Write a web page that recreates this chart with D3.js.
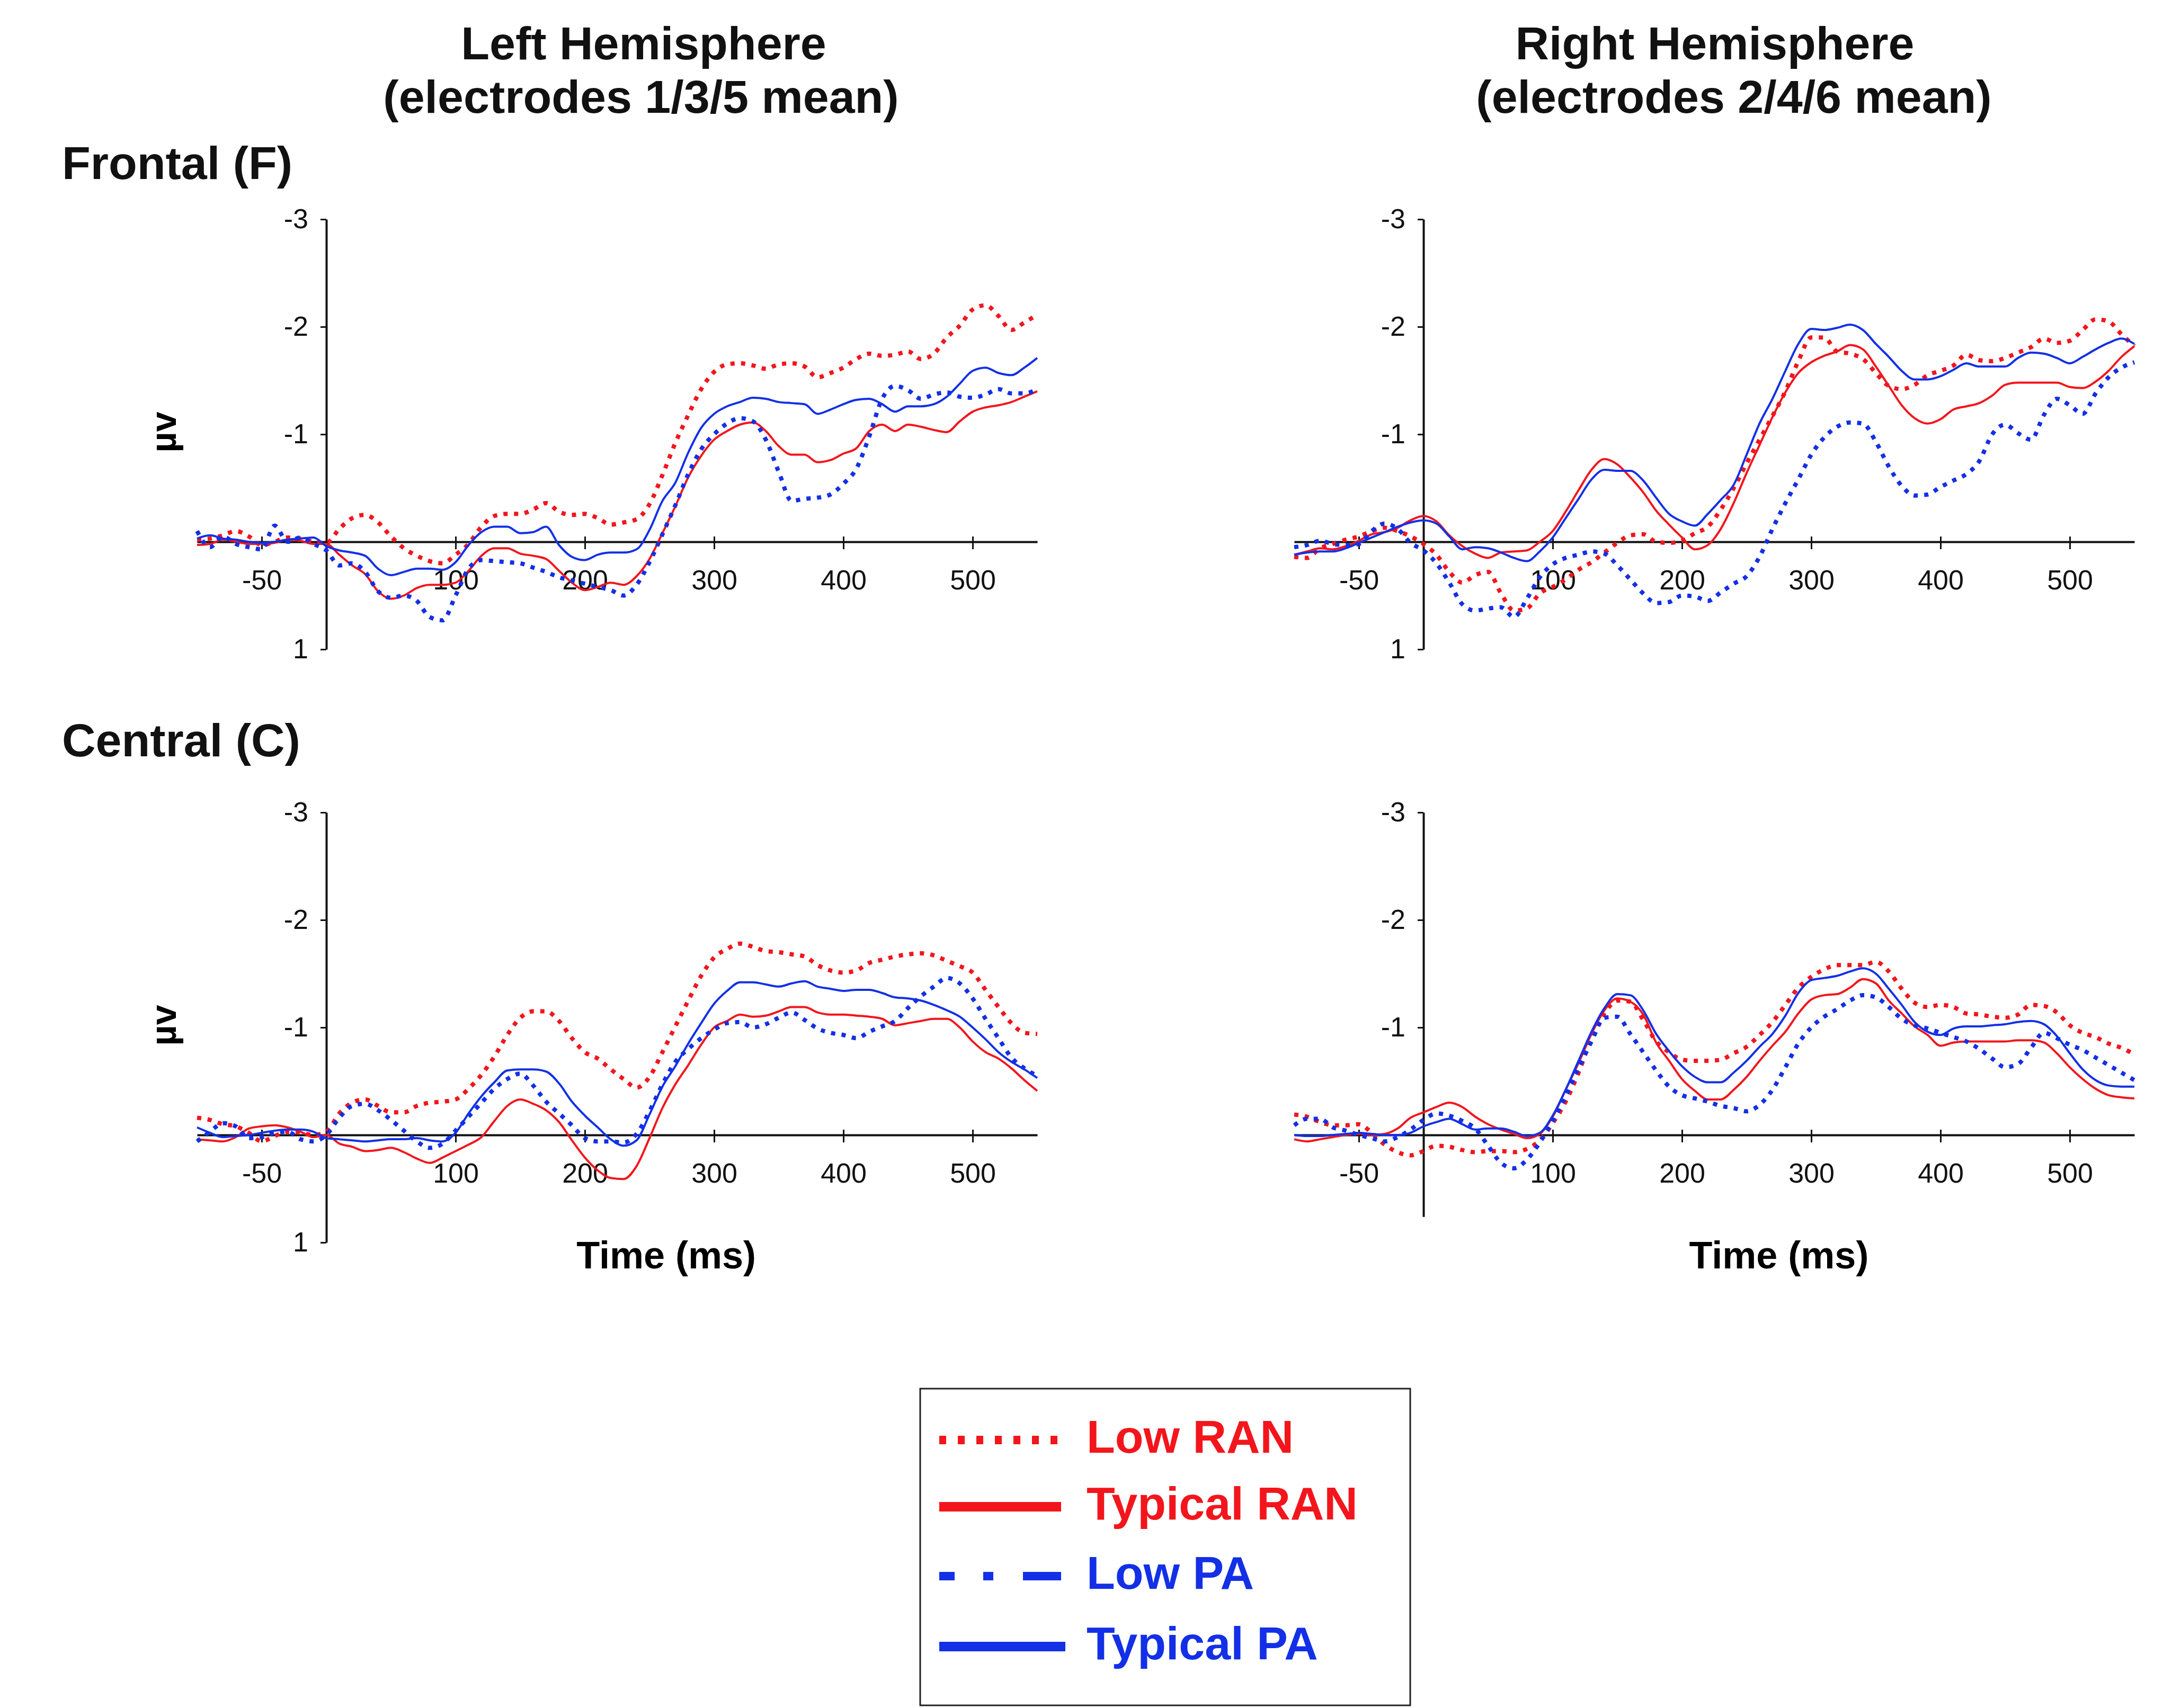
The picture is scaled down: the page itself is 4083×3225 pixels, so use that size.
<!DOCTYPE html>
<html>
<head>
<meta charset="utf-8">
<script src="https://cdn.jsdelivr.net/npm/d3@7"></script>
<style>
  body { margin: 0; background: #fff; }
  text { font-family: "Liberation Sans", Arial, sans-serif; }
</style>
</head>
<body>
<svg id="chart"></svg>
<script>
// sample times (ms)
const times = [-100,-90,-80,-70,-60,-50,-40,-30,-20,-10,
  0,10,20,30,40,50,60,70,80,90,
  100,110,120,130,140,150,160,170,180,190,
  200,210,220,230,240,250,260,270,280,290,
  300,310,320,330,340,350,360,370,380,390,
  400,410,420,430,440,450,460,470,480,490,
  500,510,520,530,540,550];

// Frontal, left hemisphere (µV)
const fLeftLowRan = [-0.02,-0.03,-0.06,-0.10,-0.05,0.03,0.00,-0.04,-0.03,0.00,
  0.01,-0.12,-0.22,-0.25,-0.18,-0.05,0.06,0.13,0.18,0.20,
  0.12,0.02,-0.14,-0.24,-0.26,-0.26,-0.30,-0.36,-0.28,-0.25,
  -0.26,-0.22,-0.16,-0.18,-0.21,-0.35,-0.62,-0.92,-1.18,-1.42,
  -1.58,-1.65,-1.66,-1.64,-1.61,-1.65,-1.66,-1.63,-1.53,-1.57,
  -1.62,-1.70,-1.75,-1.73,-1.74,-1.77,-1.70,-1.75,-1.90,-2.01,
  -2.16,-2.20,-2.10,-1.97,-2.04,-2.11];
const fLeftTypRan = [0.03,0.02,-0.02,0.00,0.02,0.02,0.01,-0.02,-0.01,0.02,
  0.02,0.12,0.22,0.30,0.46,0.53,0.50,0.43,0.40,0.40,
  0.38,0.27,0.13,0.06,0.06,0.11,0.13,0.16,0.27,0.38,
  0.45,0.42,0.38,0.40,0.32,0.16,-0.08,-0.33,-0.60,-0.80,
  -0.95,-1.03,-1.09,-1.11,-1.03,-0.89,-0.81,-0.81,-0.74,-0.76,
  -0.82,-0.87,-1.03,-1.09,-1.03,-1.09,-1.07,-1.04,-1.02,-1.12,
  -1.21,-1.25,-1.27,-1.30,-1.35,-1.40];
const fLeftLowPa = [-0.10,0.05,-0.05,0.02,0.05,0.07,-0.15,0.00,-0.04,0.02,
  0.08,0.22,0.20,0.28,0.46,0.52,0.50,0.55,0.70,0.73,
  0.50,0.25,0.17,0.18,0.19,0.20,0.24,0.28,0.33,0.36,
  0.39,0.42,0.45,0.50,0.40,0.19,-0.07,-0.34,-0.63,-0.86,
  -1.00,-1.10,-1.15,-1.12,-0.95,-0.65,-0.38,-0.40,-0.41,-0.44,
  -0.54,-0.68,-0.98,-1.33,-1.45,-1.41,-1.33,-1.37,-1.39,-1.35,
  -1.34,-1.37,-1.42,-1.38,-1.38,-1.42];
const fLeftTypPa = [-0.03,-0.06,-0.03,-0.02,0.00,0.01,0.00,-0.02,-0.03,-0.04,
  0.04,0.08,0.10,0.13,0.25,0.31,0.28,0.25,0.25,0.26,
  0.19,0.03,-0.09,-0.14,-0.14,-0.08,-0.09,-0.14,0.03,0.14,
  0.17,0.12,0.10,0.10,0.07,-0.11,-0.38,-0.55,-0.83,-1.06,
  -1.19,-1.26,-1.30,-1.34,-1.33,-1.30,-1.29,-1.28,-1.19,-1.23,
  -1.28,-1.32,-1.33,-1.28,-1.21,-1.26,-1.26,-1.28,-1.35,-1.47,
  -1.59,-1.62,-1.57,-1.55,-1.62,-1.71];

// Frontal, right hemisphere
const fRightLowRan = [0.14,0.15,0.06,0.02,-0.02,-0.05,-0.10,-0.13,-0.10,-0.05,
  0.02,0.12,0.28,0.38,0.31,0.28,0.48,0.64,0.62,0.48,
  0.42,0.35,0.26,0.19,0.10,0.01,-0.06,-0.07,0.00,0.01,
  -0.01,-0.08,-0.14,-0.30,-0.50,-0.73,-0.95,-1.17,-1.40,-1.68,
  -1.90,-1.90,-1.77,-1.75,-1.70,-1.57,-1.45,-1.42,-1.46,-1.55,
  -1.59,-1.64,-1.74,-1.69,-1.68,-1.71,-1.76,-1.81,-1.89,-1.85,
  -1.87,-1.97,-2.07,-2.05,-1.93,-1.82];
const fRightTypRan = [0.12,0.09,0.06,0.07,0.04,-0.01,-0.07,-0.09,-0.13,-0.20,
  -0.24,-0.19,-0.06,0.04,0.11,0.15,0.10,0.09,0.08,0.00,
  -0.10,-0.28,-0.48,-0.67,-0.77,-0.72,-0.60,-0.46,-0.29,-0.16,
  -0.04,0.07,0.03,-0.12,-0.36,-0.64,-0.90,-1.16,-1.39,-1.57,
  -1.67,-1.73,-1.77,-1.83,-1.79,-1.63,-1.45,-1.27,-1.15,-1.10,
  -1.14,-1.23,-1.26,-1.29,-1.36,-1.46,-1.48,-1.48,-1.48,-1.48,
  -1.44,-1.43,-1.49,-1.59,-1.72,-1.82];
const fRightLowPa = [0.05,0.03,-0.01,0.02,0.03,0.02,-0.10,-0.17,-0.12,0.01,
  0.08,0.20,0.38,0.58,0.64,0.62,0.61,0.70,0.53,0.33,
  0.21,0.15,0.12,0.09,0.11,0.22,0.35,0.48,0.57,0.56,
  0.50,0.51,0.55,0.47,0.39,0.32,0.14,-0.12,-0.36,-0.58,
  -0.81,-0.97,-1.07,-1.11,-1.10,-0.93,-0.70,-0.52,-0.43,-0.44,
  -0.51,-0.57,-0.63,-0.75,-1.00,-1.09,-1.01,-0.95,-1.18,-1.33,
  -1.27,-1.19,-1.38,-1.53,-1.62,-1.67];
const fRightTypPa = [0.12,0.10,0.09,0.09,0.06,0.01,-0.04,-0.09,-0.14,-0.18,
  -0.20,-0.17,-0.05,0.07,0.05,0.06,0.10,0.15,0.18,0.09,
  -0.04,-0.22,-0.40,-0.58,-0.67,-0.66,-0.66,-0.57,-0.41,-0.26,
  -0.19,-0.15,-0.26,-0.39,-0.53,-0.81,-1.10,-1.33,-1.59,-1.84,
  -1.98,-1.97,-1.99,-2.02,-1.97,-1.84,-1.72,-1.59,-1.51,-1.51,
  -1.54,-1.60,-1.66,-1.63,-1.63,-1.63,-1.71,-1.76,-1.75,-1.71,
  -1.66,-1.72,-1.79,-1.85,-1.89,-1.84];

// Central, left hemisphere
const cLeftLowRan = [-0.16,-0.14,-0.10,-0.08,-0.02,0.06,0.01,-0.03,-0.02,0.00,
  -0.03,-0.20,-0.30,-0.33,-0.27,-0.21,-0.21,-0.27,-0.30,-0.31,
  -0.33,-0.43,-0.56,-0.73,-0.93,-1.09,-1.15,-1.15,-1.06,-0.90,
  -0.77,-0.71,-0.61,-0.52,-0.44,-0.54,-0.77,-1.01,-1.25,-1.48,
  -1.65,-1.73,-1.78,-1.75,-1.71,-1.70,-1.68,-1.66,-1.58,-1.53,
  -1.51,-1.53,-1.60,-1.63,-1.66,-1.68,-1.69,-1.67,-1.62,-1.57,
  -1.51,-1.35,-1.19,-1.04,-0.95,-0.94];
const cLeftTypRan = [0.04,0.05,0.06,0.02,-0.06,-0.08,-0.09,-0.07,-0.03,0.02,
  0.00,0.08,0.11,0.15,0.14,0.12,0.16,0.22,0.26,0.21,
  0.15,0.09,0.02,-0.13,-0.27,-0.33,-0.29,-0.23,-0.12,0.05,
  0.21,0.33,0.40,0.41,0.29,0.03,-0.25,-0.47,-0.65,-0.84,
  -1.00,-1.06,-1.12,-1.10,-1.11,-1.15,-1.19,-1.19,-1.14,-1.12,
  -1.12,-1.11,-1.10,-1.08,-1.02,-1.04,-1.06,-1.08,-1.08,-1.00,
  -0.87,-0.77,-0.71,-0.62,-0.51,-0.41];
const cLeftLowPa = [0.06,-0.03,-0.11,-0.08,0.03,0.02,-0.02,-0.03,0.04,0.06,
  0.00,-0.16,-0.27,-0.29,-0.23,-0.14,-0.04,0.06,0.12,0.08,
  -0.04,-0.17,-0.30,-0.43,-0.52,-0.57,-0.46,-0.31,-0.20,-0.09,
  0.03,0.06,0.06,0.07,-0.01,-0.22,-0.47,-0.68,-0.80,-0.90,
  -0.98,-1.04,-1.05,-1.00,-1.03,-1.09,-1.14,-1.07,-0.99,-0.95,
  -0.93,-0.90,-0.96,-1.01,-1.06,-1.18,-1.29,-1.38,-1.46,-1.41,
  -1.27,-1.08,-0.90,-0.72,-0.62,-0.55];
const cLeftTypPa = [-0.07,-0.02,0.02,0.01,0.00,-0.02,-0.04,-0.05,-0.05,-0.03,
  0.03,0.04,0.05,0.06,0.05,0.04,0.04,0.03,0.05,0.06,
  -0.02,-0.20,-0.36,-0.49,-0.60,-0.61,-0.61,-0.59,-0.48,-0.31,
  -0.18,-0.07,0.04,0.10,0.05,-0.19,-0.45,-0.64,-0.85,-1.04,
  -1.22,-1.34,-1.42,-1.42,-1.40,-1.38,-1.41,-1.43,-1.38,-1.36,
  -1.34,-1.35,-1.35,-1.32,-1.28,-1.27,-1.25,-1.21,-1.16,-1.10,
  -1.00,-0.89,-0.77,-0.68,-0.61,-0.53];

// Central, right hemisphere
const cRightLowRan = [-0.19,-0.17,-0.12,-0.09,-0.09,-0.10,-0.02,0.09,0.16,0.19,
  0.15,0.10,0.11,0.14,0.16,0.15,0.15,0.16,0.13,0.05,
  -0.11,-0.31,-0.58,-0.90,-1.13,-1.25,-1.24,-1.07,-0.87,-0.77,
  -0.70,-0.69,-0.69,-0.70,-0.76,-0.82,-0.93,-1.05,-1.21,-1.37,
  -1.47,-1.54,-1.58,-1.58,-1.58,-1.61,-1.52,-1.36,-1.23,-1.19,
  -1.21,-1.19,-1.13,-1.12,-1.10,-1.09,-1.12,-1.21,-1.20,-1.14,
  -1.02,-0.95,-0.91,-0.85,-0.81,-0.75];
const cRightTypRan = [0.04,0.06,0.04,0.02,0.00,-0.01,0.00,-0.01,-0.06,-0.16,
  -0.21,-0.26,-0.30,-0.26,-0.17,-0.10,-0.05,-0.01,0.03,-0.01,
  -0.17,-0.42,-0.67,-0.94,-1.16,-1.27,-1.24,-1.12,-0.86,-0.69,
  -0.52,-0.41,-0.33,-0.33,-0.42,-0.54,-0.69,-0.83,-0.96,-1.13,
  -1.26,-1.30,-1.31,-1.37,-1.45,-1.41,-1.25,-1.13,-1.01,-0.93,
  -0.83,-0.86,-0.87,-0.87,-0.87,-0.87,-0.88,-0.88,-0.86,-0.76,
  -0.63,-0.52,-0.43,-0.37,-0.35,-0.34];
const cRightLowPa = [-0.09,-0.15,-0.15,-0.07,-0.04,0.00,0.03,0.06,0.02,-0.05,
  -0.14,-0.20,-0.18,-0.13,-0.06,0.10,0.26,0.31,0.23,0.07,
  -0.13,-0.36,-0.62,-0.87,-1.09,-1.10,-0.94,-0.77,-0.60,-0.45,
  -0.37,-0.34,-0.31,-0.27,-0.25,-0.22,-0.28,-0.42,-0.63,-0.85,
  -1.00,-1.10,-1.17,-1.25,-1.30,-1.28,-1.19,-1.08,-1.02,-0.99,
  -0.95,-0.91,-0.87,-0.80,-0.71,-0.63,-0.66,-0.81,-0.95,-0.90,
  -0.84,-0.79,-0.72,-0.65,-0.58,-0.51];
const cRightTypPa = [0.00,0.01,0.01,0.00,-0.01,-0.02,-0.01,0.00,0.00,-0.02,
  -0.08,-0.12,-0.15,-0.10,-0.05,-0.06,-0.06,-0.03,0.01,-0.02,
  -0.18,-0.42,-0.69,-0.96,-1.18,-1.31,-1.30,-1.16,-0.94,-0.78,
  -0.64,-0.54,-0.49,-0.49,-0.58,-0.69,-0.82,-0.94,-1.11,-1.32,
  -1.44,-1.46,-1.48,-1.52,-1.55,-1.50,-1.36,-1.21,-1.05,-0.96,
  -0.93,-0.99,-1.01,-1.01,-1.02,-1.03,-1.05,-1.06,-1.03,-0.92,
  -0.76,-0.61,-0.51,-0.46,-0.45,-0.45];

const xTicks = [-50, 100, 200, 300, 400, 500];
const yTicks = [-3, -2, -1, 0, 1];
const groupNames = ["Low RAN", "Typical RAN", "Low PA", "Typical PA"];

const RED = "#f2161c";
const BLUE = "#1330e6";
const groupColor = [RED, RED, BLUE, BLUE];
const groupDash = ["8 12", null, "8 12", null];
const groupWidth = [8, 4, 8, 4];

const W = 4083, H = 3225;
const svg = d3.select("#chart").attr("width", W).attr("height", H)
  .attr("viewBox", [0, 0, W, H]);

const panels = [
  { left: 372, top: 414, label: true, axisEnd: 1, data: [fLeftLowRan, fLeftTypRan, fLeftLowPa, fLeftTypPa] },
  { left: 2443, top: 414, label: false, axisEnd: 1, data: [fRightLowRan, fRightTypRan, fRightLowPa, fRightTypPa] },
  { left: 372, top: 1534, label: true, axisEnd: 1, timeAt: 263, data: [cLeftLowRan, cLeftTypRan, cLeftLowPa, cLeftTypPa] },
  { left: 2443, top: 1534, label: false, axisEnd: 0.76, timeAt: 275, data: [cRightLowRan, cRightTypRan, cRightLowPa, cRightTypPa] }
];

const panelW = 1586, panelH = 812;

panels.forEach((p) => {
  const x = d3.scaleLinear().domain([-100, 550]).range([p.left, p.left + panelW]);
  const y = d3.scaleLinear().domain([-3, 1]).range([p.top, p.top + panelH]);
  const g = svg.append("g");

  // y axis
  const yAxisScale = y.copy().domain([-3, p.axisEnd]).range([y(-3), y(p.axisEnd)]);
  const yAx = g.append("g")
    .attr("transform", `translate(${x(0)},0)`)
    .call(d3.axisLeft(yAxisScale)
      .tickValues(yTicks.filter((d) => d <= p.axisEnd))
      .tickSize(11).tickSizeOuter(0).tickPadding(23)
      .tickFormat((d) => (d === 0 ? "" : d)));
  yAx.select(".domain").attr("stroke", "#111").attr("stroke-width", 4);
  yAx.selectAll(".tick line").attr("stroke", "#111").attr("stroke-width", 3);
  yAx.selectAll(".tick text")
    .attr("font-family", '"Liberation Sans", Arial, sans-serif')
    .attr("font-size", 52).attr("fill", "#111");

  // x axis along zero line
  const xAx = g.append("g")
    .attr("transform", `translate(0,${y(0)})`)
    .call(d3.axisBottom(x).tickValues(xTicks)
      .tickSize(14).tickSizeOuter(0).tickPadding(39)
      .tickFormat((d) => d));
  xAx.select(".domain").attr("stroke", "#111").attr("stroke-width", 4);
  xAx.selectAll(".tick line").attr("stroke", "#111").attr("stroke-width", 3).attr("y1", -10);
  xAx.selectAll(".tick text")
    .attr("font-family", '"Liberation Sans", Arial, sans-serif')
    .attr("font-size", 52).attr("fill", "#111");

  if (p.label) {
    g.append("text")
      .attr("transform", `translate(332,${y(-1.02)}) rotate(-90)`)
      .attr("text-anchor", "middle")
      .attr("font-weight", "bold").attr("font-size", 68)
      .text("µv");
  }
  if (p.timeAt !== undefined) {
    g.append("text")
      .attr("x", x(p.timeAt)).attr("y", 2395)
      .attr("text-anchor", "middle")
      .attr("font-weight", "bold").attr("font-size", 72)
      .text("Time (ms)");
  }

  const line = d3.line()
    .x((d, i) => x(times[i]))
    .y((d) => y(d))
    .curve(d3.curveMonotoneX);

  p.data.forEach((series, k) => {
    g.append("path")
      .datum(series)
      .attr("fill", "none")
      .attr("stroke", groupColor[k])
      .attr("stroke-width", groupWidth[k])
      .attr("stroke-dasharray", groupDash[k])
      .attr("stroke-linejoin", "round")
      .attr("d", line);
  });
});

// headings
const heads = [
  { t: "Left Hemisphere", x: 1215, y: 112, a: "middle" },
  { t: "(electrodes 1/3/5 mean)", x: 1210, y: 213, a: "middle" },
  { t: "Right Hemisphere", x: 3237, y: 112, a: "middle" },
  { t: "(electrodes 2/4/6 mean)", x: 3273, y: 213, a: "middle" },
  { t: "Frontal (F)", x: 117, y: 338, a: "start" },
  { t: "Central (C)", x: 117, y: 1428, a: "start" }
];
svg.selectAll("text.head").data(heads).join("text")
  .attr("class", "head")
  .attr("x", (d) => d.x).attr("y", (d) => d.y)
  .attr("text-anchor", (d) => d.a)
  .attr("font-weight", "bold").attr("font-size", 88)
  .attr("fill", "#111")
  .text((d) => d.t);

// legend
const legendRowY = [2719, 2845, 2976, 3109];
const legendDash = ["13 22", null, "29 54 19 56 72", null];
const legendWidth = [16, 18, 16, 18];
const lg = svg.append("g");
lg.append("rect")
  .attr("x", 1737).attr("y", 2622).attr("width", 925).attr("height", 598)
  .attr("fill", "#fff").attr("stroke", "#222").attr("stroke-width", 3);
groupNames.forEach((name, k) => {
  lg.append("line")
    .attr("x1", 1773).attr("x2", k === 3 ? 2011 : 2003)
    .attr("y1", legendRowY[k]).attr("y2", legendRowY[k])
    .attr("stroke", groupColor[k])
    .attr("stroke-width", legendWidth[k])
    .attr("stroke-dasharray", legendDash[k]);
  lg.append("text")
    .attr("x", 2051).attr("y", legendRowY[k] + 24)
    .attr("font-weight", "bold").attr("font-size", 88)
    .attr("fill", groupColor[k])
    .text(name);
});
</script>
</body>
</html>
